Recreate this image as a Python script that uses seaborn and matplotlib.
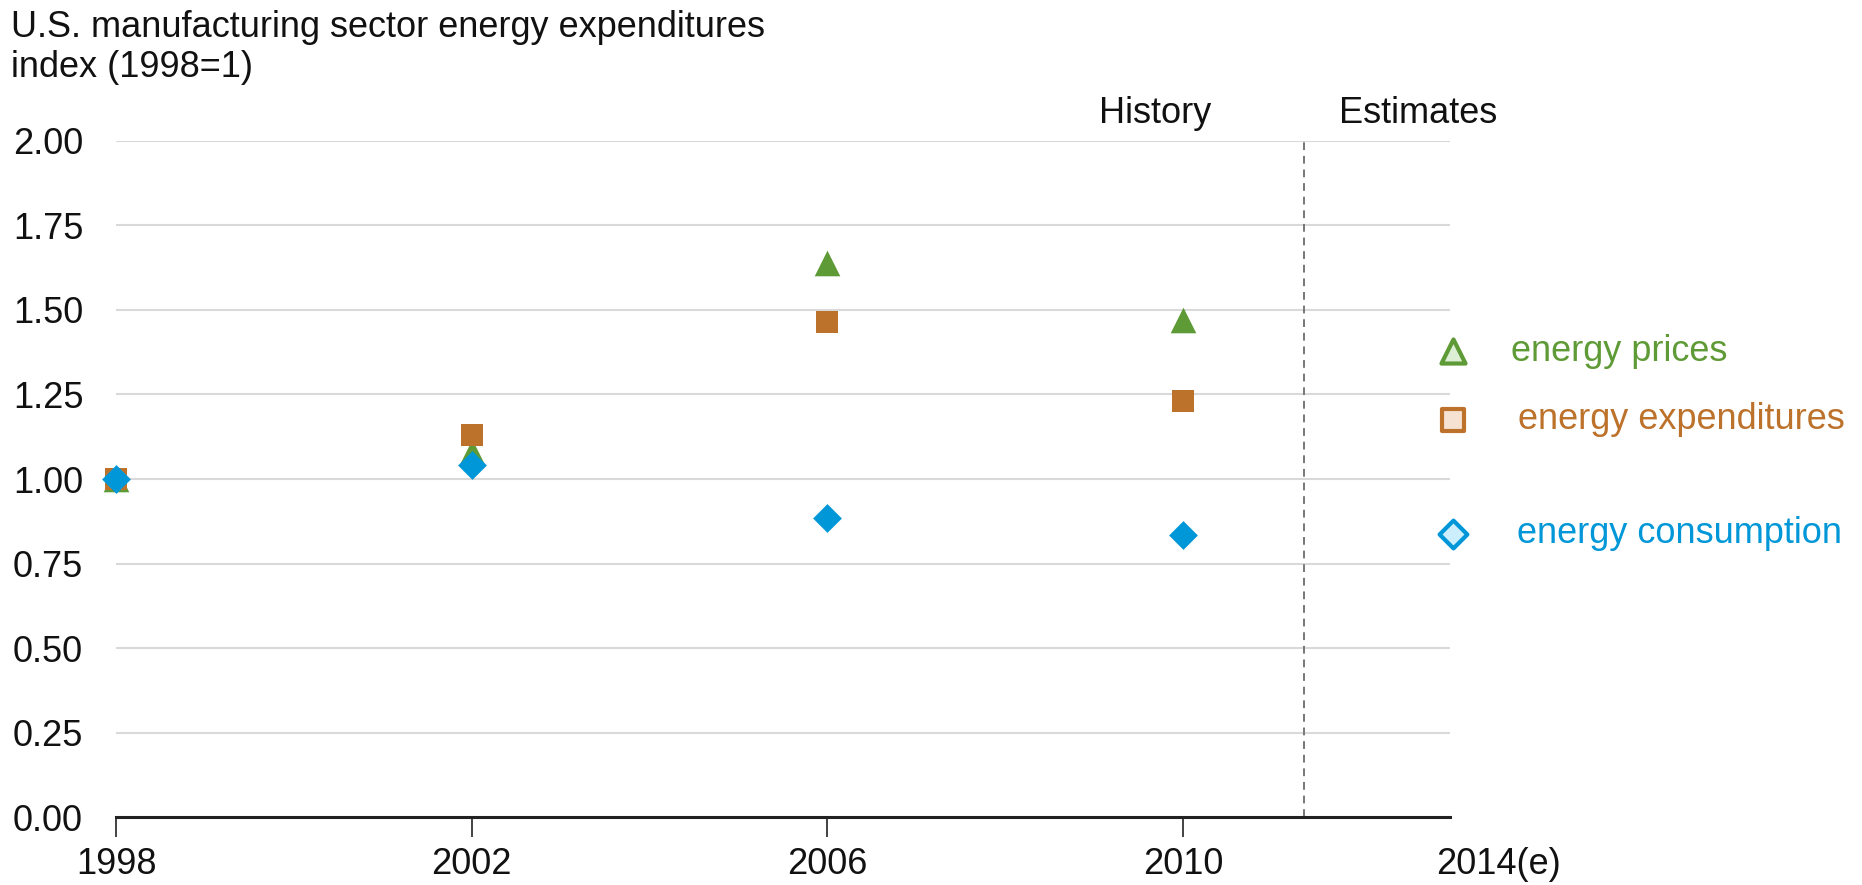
import matplotlib
matplotlib.use("Agg")
import matplotlib.pyplot as plt
import matplotlib.transforms as mtransforms
import seaborn as sns
import pandas as pd

years = [1998, 2002, 2006, 2010]
energy_prices = [1.00, 1.08, 1.64, 1.47]
energy_expenditures = [1.00, 1.13, 1.465, 1.23]
energy_consumption = [1.00, 1.04, 0.885, 0.835]
series_labels = ["energy prices", "energy expenditures", "energy consumption"]
x_tick_labels = ["1998", "2002", "2006", "2010"]
extra_x_label = "2014(e)"
y_ticks = [0.0, 0.25, 0.5, 0.75, 1.0, 1.25, 1.5, 1.75, 2.0]
title_lines = ["U.S. manufacturing sector energy expenditures", "index (1998=1)"]

sns.set_theme(style="white")
plt.rcParams['font.family'] = ['Liberation Sans', 'DejaVu Sans']

FS = 26
GREEN = "#5E9A35"
ORANGE = "#BD722B"
BLUE = "#0097D8"
TXT = "#111111"

fig = plt.figure(figsize=(18.62, 8.85), dpi=100)
ax = fig.add_axes([0.0623, 0.0768, 0.7164, 0.7639])

df_p = pd.DataFrame({"year": years, "v": energy_prices})
df_e = pd.DataFrame({"year": years, "v": energy_expenditures})
df_c = pd.DataFrame({"year": years, "v": energy_consumption})

sns.scatterplot(data=df_p, x="year", y="v", marker="^", s=340, color=GREEN,
                linewidth=0, ax=ax, zorder=3, clip_on=False)
sns.scatterplot(data=df_e, x="year", y="v", marker="s", s=250, color=ORANGE,
                linewidth=0, ax=ax, zorder=4, clip_on=False)
sns.scatterplot(data=df_c, x="year", y="v", marker="D", s=215, color=BLUE,
                linewidth=0, ax=ax, zorder=5, clip_on=False)

ax.set_xlim(1998, 2013)
ax.set_ylim(0, 2.0)
ax.set_yticks(y_ticks)
ax.set_yticklabels([f"{v:.2f}" for v in y_ticks])
ax.set_xticks(years)
ax.set_xticklabels(x_tick_labels)
ax.set_xlabel("")
ax.set_ylabel("")

for y in y_ticks[1:]:
    ax.axhline(y, color="#d9d9d9", lw=1.5, zorder=1)

for s in ["top", "right", "left"]:
    ax.spines[s].set_visible(False)
ax.spines["bottom"].set_color("#222222")
ax.spines["bottom"].set_linewidth(2.2)
ax.spines["bottom"].set_zorder(6)

TICKLEN = 14.5
PAD = 7
ax.tick_params(axis="x", which="major", direction="out", length=TICKLEN, width=1.2,
               color="#222222", labelsize=FS, labelcolor=TXT, pad=PAD, bottom=True)
ax.tick_params(axis="y", length=0, labelsize=FS, labelcolor=TXT, pad=0)
ytrans = mtransforms.blended_transform_factory(fig.transFigure, ax.transData)
for lab in ax.get_yticklabels():
    lab.set_horizontalalignment("left")
    lab.set_transform(ytrans)
    lab.set_x(0.007)

ax.annotate(extra_x_label, xy=(2013.55, 0), xycoords="data",
            xytext=(0, -(TICKLEN + PAD)), textcoords="offset points",
            ha="center", va="top", fontsize=FS, color=TXT, annotation_clip=False)

# vertical divider between history and estimates
ax.axvline(2011.36, ymin=0, ymax=1, color="#777777", lw=1.4, ls=(0, (4, 3)), zorder=2)

ax.text(2009.68, 2.053, "History", ha="center", va="baseline", fontsize=FS, color=TXT)
ax.text(2012.64, 2.053, "Estimates", ha="center", va="baseline", fontsize=FS, color=TXT)

fig.text(0.006, 1 - 37 / 885, title_lines[0], ha="left", va="baseline",
         fontsize=FS, color=TXT)
fig.text(0.006, 1 - 77 / 885, title_lines[1], ha="left", va="baseline",
         fontsize=FS, color=TXT)

# legend (manual, to match uneven spacing)
leg_y = [1.378, 1.175, 0.838]
leg_text_x = [2013.69, 2013.77, 2013.75]
ax.scatter([2013.04], [leg_y[0]], marker="^", s=300, facecolor="#dcefd5",
           edgecolor=GREEN, linewidth=3, clip_on=False, zorder=5)
ax.scatter([2013.04], [leg_y[1]], marker="s", s=230, facecolor="#f6e2d3",
           edgecolor=ORANGE, linewidth=3, clip_on=False, zorder=5)
ax.scatter([2013.04], [leg_y[2]], marker="D", s=200, facecolor="#cdeefd",
           edgecolor=BLUE, linewidth=3, clip_on=False, zorder=5)
for lab, xx, yy, c in zip(series_labels, leg_text_x, leg_y, [GREEN, ORANGE, BLUE]):
    ax.text(xx, yy, lab, ha="left", va="center", fontsize=FS, color=c, clip_on=False)

fig.savefig("out.png", dpi=100)
